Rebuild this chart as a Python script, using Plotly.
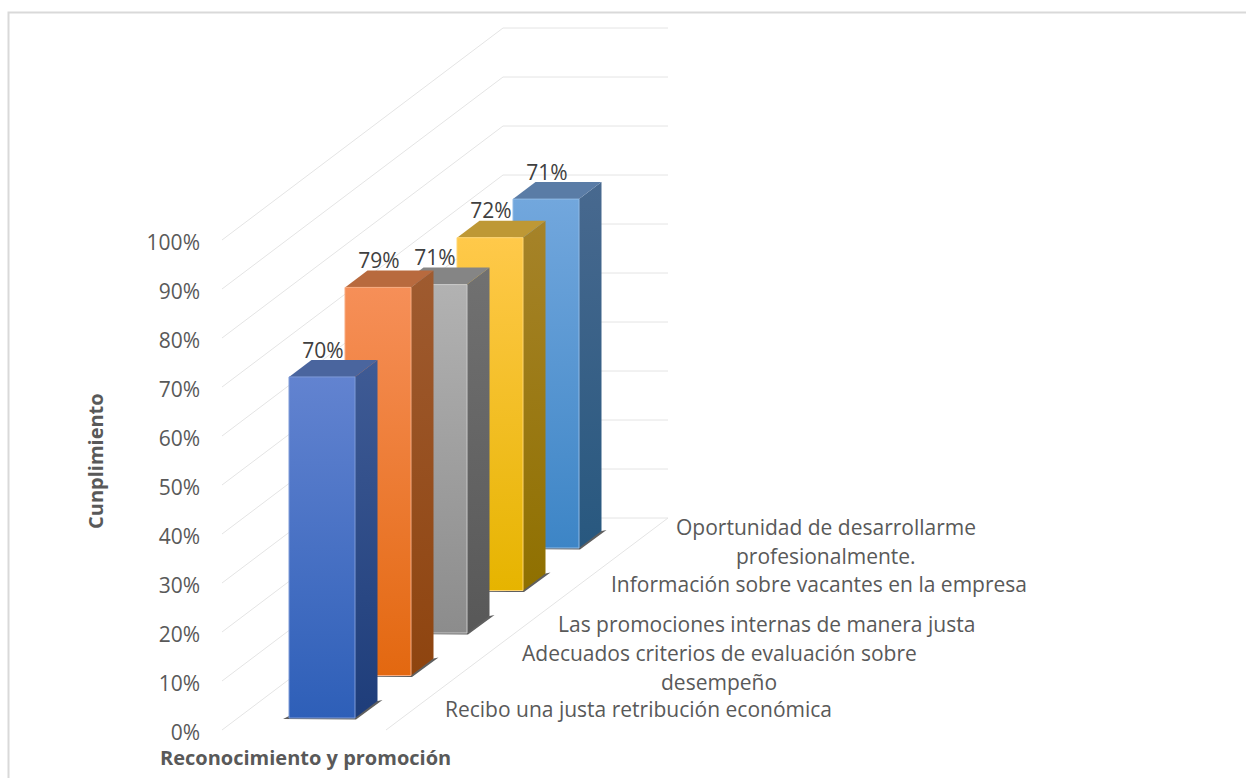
import plotly.graph_objects as go

# ---- data ----
categories = [
    "Recibo una justa retribución económica",
    "Adecuados criterios de evaluación sobre<br>desempeño",
    "Las promociones internas de manera justa",
    "Información sobre vacantes en la empresa",
    "Oportunidad de desarrollarme<br>profesionalmente.",
]
values = [69.6, 79.2, 71.1, 72.0, 71.2]
value_labels = ["70%", "79%", "71%", "72%", "71%"]
y_ticks = [0, 10, 20, 30, 40, 50, 60, 70, 80, 90, 100]
y_tick_labels = [f"{t}%" for t in y_ticks]
y_title = "Cunplimiento"
x_title = "Reconocimiento y promoción"

front_colors = [("#2e5fb8", "#6283d0"), ("#e36810", "#f68f58"), ("#8c8c8c", "#b2b2b2"),
                ("#e6b400", "#ffc94a"), ("#3d85c6", "#72a7dd")]
side_colors = [("#1e3d7a", "#3f5b95"), ("#8e440f", "#9f5b30"), ("#585858", "#717171"),
               ("#8f7000", "#a68329"), ("#28587f", "#48698f")]
top_colors = ["#4a659e", "#b86a3e", "#858585", "#be9835", "#5a7ca6"]
edge_colors = ["#7f9bd8", "#f8ab80", "#c8c8c8", "#ffd673", "#90bae6"]

# ---- oblique projection geometry (pixels; 1% = PX_PER_PCT px) ----
W, H = 1246, 778
PX_PER_PCT = 4.9
Y0 = 730  # pixel row of 0% on the axis
def pct(px):
    return px / PX_PER_PCT

WALL_X0, WALL_DX, WALL_DY, WALL_X1, FLOOR_FRONT_X = 222, 281, 212, 668, 386
BAR_X0, BAR_W, STEP_X, STEP_Y, BAR_LIFT, DEPTH_X, DEPTH_Y = 289, 66, 56, 42.5, 12, 22.5, 17
LINE_STEP = 29

fig = go.Figure()

def poly(xs, ys, **kw):
    fig.add_trace(go.Scatter(x=xs, y=ys, mode="lines", fill="toself", hoverinfo="skip",
                             showlegend=False, **kw))

# gridlines on the side wall and back wall
for t in y_ticks:
    fig.add_trace(go.Scatter(
        x=[WALL_X0, WALL_X0 + WALL_DX, WALL_X1],
        y=[t, t + pct(WALL_DY), t + pct(WALL_DY)],
        mode="lines", line=dict(color="#e4e4e4", width=1), hoverinfo="skip", showlegend=False))
fig.add_trace(go.Scatter(
    x=[FLOOR_FRONT_X, WALL_X1], y=[0, pct(WALL_DY)],
    mode="lines", line=dict(color="#e4e4e4", width=1), hoverinfo="skip", showlegend=False))

# bars, back to front
for i in reversed(range(len(values))):
    xl = BAR_X0 + i * STEP_X
    xr = xl + BAR_W
    base = pct(BAR_LIFT + i * STEP_Y)
    top = base + values[i]
    dx, dy = DEPTH_X, pct(DEPTH_Y)
    # floor shadow
    poly([xl - 6, xl, xr + dx, xr + dx + 5, xr + 1],
         [base - pct(1), base + pct(2), base + dy, base + dy + pct(1), base - pct(1.5)],
         line=dict(width=0), fillcolor="#5f5f5f")
    # side face
    poly([xr, xr + dx, xr + dx, xr], [base, base + dy, top + dy, top],
         line=dict(width=0),
         fillgradient=dict(type="vertical",
                           colorscale=[[0, side_colors[i][0]], [1, side_colors[i][1]]]))
    # top face
    poly([xl, xl + dx, xr + dx, xr], [top, top + dy, top + dy, top],
         line=dict(width=0), fillcolor=top_colors[i])
    # front face
    poly([xl, xr, xr, xl, xl], [base, base, top, top, base],
         line=dict(width=1, color=edge_colors[i]),
         fillgradient=dict(type="vertical",
                           colorscale=[[0, front_colors[i][0]], [1, front_colors[i][1]]]))

# data labels
fig.add_trace(go.Scatter(
    x=[BAR_X0 + i * STEP_X + BAR_W / 2 + 1 for i in range(len(values))],
    y=[pct(BAR_LIFT + i * STEP_Y + DEPTH_Y - 3) + values[i] for i in range(len(values))],
    mode="text", text=value_labels, textposition="top center",
    textfont=dict(family="Open Sans", size=21, color="#404040"),
    hoverinfo="skip", showlegend=False))

# category labels: one annotation per text line, centred on the label's middle
label_pos = [(638, 709), (719, 667.5), (766, 624), (819, 584), (825.5, 541)]
for cat, (lx, ly) in zip(categories, label_pos):
    lines = cat.split("<br>")
    for j, line in enumerate(lines):
        py = ly + (j - (len(lines) - 1) / 2) * LINE_STEP
        fig.add_annotation(x=lx, y=1 - py / H, xref="x", yref="paper", text=line,
                           showarrow=False, align="center",
                           font=dict(family="Open Sans", size=21, color="#595959"),
                           xanchor="center", yanchor="middle")

fig.add_annotation(x=305, y=1 - 757 / H, xref="x", yref="paper", text=f"<b>{x_title}</b>",
                   showarrow=False, xanchor="center", yanchor="middle",
                   font=dict(family="Open Sans", size=20, color="#595959"))
fig.add_annotation(x=95, y=1 - 461 / H, xref="x", yref="paper", text=f"<b>{y_title}</b>",
                   showarrow=False, textangle=-90, xanchor="center", yanchor="middle",
                   font=dict(family="Open Sans", size=20, color="#595959"))

# outer frame: top and left edges only (the rest is cropped)
fig.add_shape(type="path", xref="paper", yref="paper",
              path=f"M 1 {1 - 12.5 / H} L {8.5 / W} {1 - 12.5 / H} L {8.5 / W} 0",
              line=dict(color="#d9d9d9", width=2), layer="below")

fig.update_layout(
    width=W, height=H, margin=dict(l=0, r=0, t=0, b=0), autosize=False,
    paper_bgcolor="white", plot_bgcolor="white", showlegend=False,
    xaxis=dict(range=[0, W], domain=[0, 1], visible=False, fixedrange=True),
    yaxis=dict(range=[pct(Y0 - H), pct(Y0)], domain=[0, 1], anchor="free",
               position=WALL_X0 / W, tickvals=y_ticks, ticktext=y_tick_labels,
               showgrid=False, zeroline=False, showline=False, ticks="",
               ticklabelstandoff=22, ticklabelshift=3, fixedrange=True,
               tickfont=dict(family="Open Sans", size=21, color="#595959")),
)
fig.write_html("out.html", config={"displayModeBar": False},
               post_script="document.body.style.margin='0';document.documentElement.style.overflow='hidden';")
